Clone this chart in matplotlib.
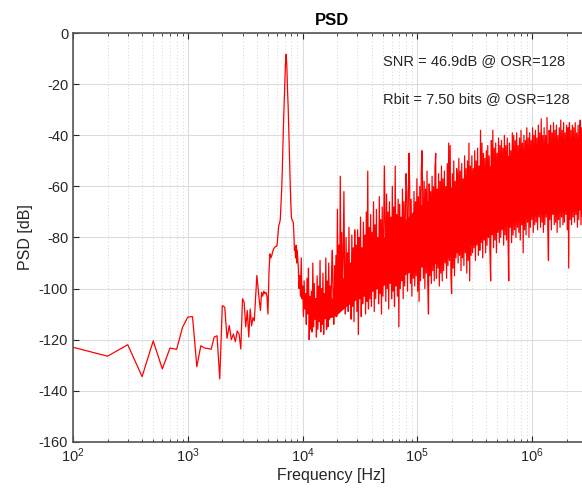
#!/usr/bin/env python3
"""PSD of a sigma-delta modulator output (MATLAB-style look)."""

import matplotlib
matplotlib.use("Agg")
import matplotlib.pyplot as plt
import numpy as np

plt.rcParams['font.family'] = ['Liberation Sans', 'DejaVu Sans']
plt.rcParams['axes.unicode_minus'] = False

# low-frequency bins (100 Hz spacing) up to the signal tone
f_low = np.arange(100, 9100, 100)
psd_low = [
    -123.0, -126.5, -122.0, -134.5, -120.5, -131.5, -123.3, -123.8, -115.2, -111.2,
    -111.0, -130.6, -122.4, -123.3, -123.5, -123.8, -119.0, -118.5, -135.4, -106.7,
    -107.3, -119.5, -114.5, -120.0, -117.8, -120.8, -116.6, -117.8, -123.7, -104.0,
    -105.4, -115.0, -108.6, -119.0, -108.0, -114.6, -111.4, -112.7, -103.4, -94.9,
    -100.0, -104.6, -108.6, -101.5, -103.0, -101.0, -102.0, -101.5, -103.0, -110.0,
    -94.0, -86.4, -88.0, -87.0, -85.5, -84.5, -84.0, -83.5, -83.5, -83.0,
    -79.0, -75.5, -74.5, -73.0, -66.0, -60.0, -50.0, -38.0, -29.0, -20.0,
    -12.0, -8.2, -13.0, -22.0, -29.0, -38.0, -48.0, -58.0, -66.0, -72.0,
    -73.0, -73.5, -74.0, -78.0, -85.0, -84.0, -88.0, -83.0, -90.0, -85.0,
]

# shaped quantization noise, 9.2 kHz .. 3 MHz (spikes)
psd_noise = [
    -92, -100, -95, -103, -88, -104, -99, -111, -97, -108, -102, -114, -96, -110, -92, -120, -103, -116, -101, -117,
    -90, -115, -98, -112, -104, -119, -95, -116, -99, -113, -89, -117, -100, -114, -94, -118, -102, -111, -88, -116,
    -97, -115, -90, -112, -99, -110, -93, -85, -104, -114, -91, -108, -87, -111, -69, -105, -83, -109, -56, -100,
    -78, -103, -88, -62, -95, -110, -80, -106, -86, -109, -76, -104, -90, -112, -79, -107, -84, -113, -77, -103,
    -83, -109, -77, -118, -80, -104, -72, -111, -84, -106, -74, -103, -79, -110, -70, -105, -54, -108, -76, -104,
    -71, -107, -78, -101, -66, -109, -75, -104, -69, -100, -80, -106, -64, -102, -73, -110, -68, -103, -77, -52,
    -74, -105, -63, -100, -70, -108, -66, -98, -72, -104, -60, -101, -68, -107, -52, -99, -71, -103, -65, -115,
    -67, -100, -72, -97, -61, -104, -66, -99, -70, -55, -63, -101, -68, -47, -59, -98, -65, -103, -71, -96,
    -62, -99, -66, -95, -57, -101, -64, -105, -60, -97, -55, -46, -63, -96, -58, -100, -61, -94, -54, -98,
    -110, -59, -95, -62, -98, -56, -93, -60, -97, -53, -47, -96, -61, -92, -55, -99, -58, -94, -52, -97,
    -57, -93, -54, -90, -60, -96, -51, -91, -43, -89, -44, -94, -102, -55, -92, -50, -95, -58, -88, -53,
    -56, -90, -49, -87, -54, -93, -51, -88, -57, -91, -48, -86, -53, -94, -50, -89, -43, -97, -52, -87,
    -48, -86, -53, -84, -46, -89, -50, -83, -45, -87, -52, -85, -38, -82, -43, -88, -47, -81, -49, -86,
    -46, -83, -44, -80, -48, -85, -97, -42, -79, -38, -84, -45, -81, -43, -86, -47, -78, -41, -82, -44,
    -80, -42, -77, -45, -83, -40, -79, -44, -81, -41, -78, -97, -43, -76, -46, -82, -39, -79, -40, -77,
    -42, -80, -39, -76, -44, -78, -41, -81, -38, -75, -43, -86, -40, -77, -42, -79, -37, -74, -41, -80,
    -39, -76, -42, -73, -37, -78, -40, -75, -38, -74, -41, -77, -36, -72, -39, -76, -33.5, -74, -40, -78,
    -37, -75, -40, -72, -33, -76, -89, -38, -73, -36, -77, -39, -71, -35, -75, -38, -74, -36, -78, -40,
    -73, -37, -76, -34, -72, -38, -75, -35, -74, -39, -71, -36, -77, -37, -92, -35, -73, -38, -75, -36,
    -72, -37, -74, -35, -71, -39, -76, -36, -73, -38, -34, -75, -37, -72, -35, -74, -38, -71, -36, -73,
]
f_noise = np.geomspace(9.2e3, 3.0e6, len(psd_noise))

# dense core of the noise band (where the trace is solid red)
f_core = [1.2e4, 1.5e4, 1.9e4, 2.4e4, 3e4, 4e4, 5.5e4, 7.5e4, 1e5,
          1.5e5, 2.2e5, 3.3e5, 5e5, 7.5e5, 1.1e6, 1.7e6, 3e6]
core_hi = [-106, -106, -103, -93, -87, -82, -79, -74, -68,
           -63, -59, -55, -50, -46, -44, -42, -41]
core_lo = [-110, -112, -111, -107, -104, -101, -98, -95, -92,
           -90, -86, -82, -77, -73, -71, -70, -69]

freq = np.concatenate([f_low, f_noise])
psd = np.concatenate([psd_low, psd_noise])

snr_text = 'SNR = 46.9dB @ OSR=128'
rbit_text = 'Rbit = 7.50 bits @ OSR=128'

fig = plt.figure(figsize=(5.82, 4.98), dpi=100)
ax = fig.add_axes([73 / 582, 56.3 / 498, 517 / 582, 408.4 / 498])

ax.fill_between(f_core, core_lo, core_hi, color='red', linewidth=0)
ax.semilogx(freq, psd, color='red', linewidth=0.9)

ax.set_xlim(1e2, 3.2e6)
ax.set_ylim(-160, 0)
ax.set_yticks(np.arange(-160, 1, 20))
ax.grid(True, which='major', color='#dcdcdc', linewidth=0.8)
ax.grid(True, which='minor', axis='x', color='#c8c8c8', linestyle=(0, (1, 3)), linewidth=0.6)
ax.set_axisbelow(True)
ax.tick_params(which='both', direction='in', top=True, right=True,
               colors='#262626', labelsize=10.5)
ax.tick_params(which='major', length=4)
ax.tick_params(which='minor', length=2)
for s in ax.spines.values():
    s.set_color('#555555')
    s.set_linewidth(1.2)

ax.set_xlabel('Frequency [Hz]', fontsize=11.5, color='#262626', labelpad=2)
ax.set_ylabel('PSD [dB]', fontsize=11.5, color='#262626')
ax.set_title('PSD', fontsize=12, fontweight='bold', pad=6)

ax.text(5.0e4, -10.9, snr_text, fontsize=10.5, ha='left', va='center', color='#262626')
ax.text(5.0e4, -25.8, rbit_text, fontsize=10.5, ha='left', va='center', color='#262626')

plt.savefig('out.png', dpi=100)
plt.close()
